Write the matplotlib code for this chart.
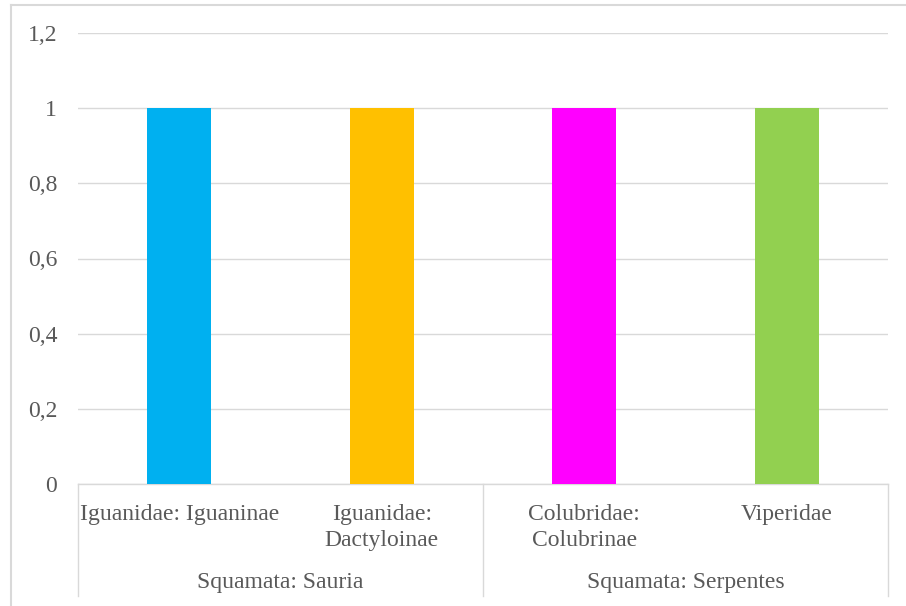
import matplotlib
matplotlib.use("Agg")
import matplotlib.pyplot as plt
from matplotlib.lines import Line2D

# Data
families = ["Iguanidae: Iguaninae", "Iguanidae:\nDactyloinae", "Colubridae:\nColubrinae", "Viperidae"]
groups = ["Squamata: Sauria", "Squamata: Serpentes"]
group_sizes = [2, 2]
values = [1, 1, 1, 1]
colors = ["#00B0F0", "#FFC000", "#FF00FF", "#92D050"]
yticks = [0, 0.2, 0.4, 0.6, 0.8, 1.0, 1.2]

W, H = 906, 606
plt.rcParams["font.family"] = ["Liberation Serif", "DejaVu Serif"]
text_color = "#595959"
line_color = "#D9D9D9"

fig = plt.figure(figsize=(W / 100, H / 100), dpi=100)
ax = fig.add_axes([78 / W, 1 - 484 / H, (888 - 78) / W, (484 - 33) / H])

x = list(range(len(values)))
ax.bar(x, values, width=0.316, color=colors, zorder=3)

ax.set_xlim(-0.5, len(values) - 0.5)
ax.set_ylim(0, 1.2)
ax.set_yticks(yticks)
ax.set_yticklabels([("%g" % t).replace(".", ",") for t in yticks])
ax.tick_params(axis="y", length=0, pad=15, labelsize=17, labelcolor=text_color)
ax.set_xticks([])
ax.grid(axis="y", color=line_color, linewidth=1.0, zorder=0)
for s in ["top", "right", "left"]:
    ax.spines[s].set_visible(False)
ax.spines["bottom"].set_color(line_color)
ax.spines["bottom"].set_linewidth(1.0)

axh = 484 - 33
def yfrac(py):
    return (484 - py) / axh

trans = ax.get_xaxis_transform()

# Inner category labels, one text per line
for xi, lab in zip(x, families):
    for i, line in enumerate(lab.split("\n")):
        ax.text(xi, yfrac(520 + 26 * i), line, transform=trans, ha="center",
                va="baseline", fontsize=17, color=text_color)

# Group labels and separators
start = 0
bounds = [-0.5]
for g, n in zip(groups, group_sizes):
    center = start + (n - 1) / 2
    ax.text(center, yfrac(588), g, transform=trans, ha="center", va="baseline",
            fontsize=17, color=text_color)
    start += n
    bounds.append(start - 0.5)
for b in bounds:
    ax.add_line(Line2D([b, b], [0, yfrac(596)], transform=trans, color=line_color,
                       linewidth=1.0, clip_on=False))

# Chart frame
fig.add_artist(Line2D([10.5 / W, 1], [1 - 4.5 / H, 1 - 4.5 / H], color=line_color, linewidth=1.5))
fig.add_artist(Line2D([10.5 / W, 10.5 / W], [0, 1 - 4.5 / H], color=line_color, linewidth=1.5))

fig.savefig("out.png", dpi=100)
